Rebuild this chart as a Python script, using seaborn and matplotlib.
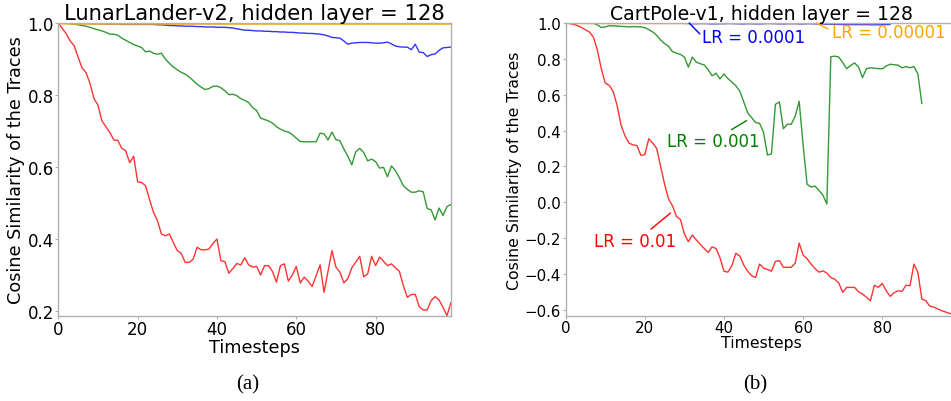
import numpy as np
import pandas as pd
import matplotlib
matplotlib.use("Agg")
import matplotlib.pyplot as plt
import seaborn as sns

# ---------------- data ----------------
steps_a = list(range(100))

lunar_lr_00001 = [1.0, 0.999, 0.999, 0.998, 0.998, 0.998, 0.998, 0.998, 0.998, 0.998,
                  0.998, 0.998, 0.998, 0.998, 0.998, 0.998, 0.998, 0.998, 0.998, 0.998,
                  0.998, 0.998, 0.998, 0.998, 0.998, 0.998, 0.998, 0.998, 0.998, 0.998,
                  0.998, 0.998, 0.998, 0.998, 0.998, 0.998, 0.998, 0.998, 0.998, 0.998,
                  0.998, 0.998, 0.998, 0.998, 0.998, 0.998, 0.998, 0.998, 0.998, 0.998,
                  0.998, 0.998, 0.998, 0.998, 0.998, 0.998, 0.998, 0.998, 0.998, 0.998,
                  0.998, 0.998, 0.998, 0.998, 0.998, 0.998, 0.998, 0.998, 0.998, 0.998,
                  0.998, 0.998, 0.998, 0.998, 0.998, 0.998, 0.998, 0.998, 0.998, 0.998,
                  0.998, 0.998, 0.998, 0.998, 0.998, 0.998, 0.998, 0.998, 0.998, 0.998,
                  0.998, 0.998, 0.998, 0.998, 0.998, 0.998, 0.998, 0.998, 0.998, 0.998]

lunar_lr_0001 = [1.0, 1.0, 1.0, 1.0, 0.999, 0.999, 0.999, 0.999, 0.998, 0.998, 0.998,
                 0.998, 0.997, 0.997, 0.997, 0.997, 0.996, 0.996, 0.996, 0.996, 0.996,
                 0.996, 0.996, 0.996, 0.996, 0.995, 0.995, 0.994, 0.993, 0.993, 0.992,
                 0.992, 0.991, 0.991, 0.991, 0.990, 0.990, 0.989, 0.989, 0.989, 0.988,
                 0.988, 0.988, 0.987, 0.986, 0.984, 0.982, 0.980, 0.980, 0.979, 0.978,
                 0.978, 0.977, 0.977, 0.976, 0.976, 0.975, 0.975, 0.974, 0.974, 0.973,
                 0.972, 0.972, 0.971, 0.971, 0.970, 0.969, 0.967, 0.964, 0.960, 0.959,
                 0.958, 0.950, 0.941, 0.944, 0.945, 0.946, 0.946, 0.946, 0.945, 0.944,
                 0.944, 0.945, 0.947, 0.942, 0.936, 0.934, 0.933, 0.933, 0.926, 0.941,
                 0.919, 0.918, 0.907, 0.912, 0.914, 0.924, 0.931, 0.932, 0.933]

lunar_lr_001 = [1.0, 1.0, 1.0, 0.998, 0.997, 0.995, 0.993, 0.991, 0.988, 0.984,
                0.981, 0.978, 0.974, 0.969, 0.969, 0.966, 0.958, 0.952, 0.946, 0.940,
                0.936, 0.932, 0.920, 0.922, 0.916, 0.913, 0.916, 0.900, 0.888, 0.878,
                0.870, 0.863, 0.858, 0.850, 0.840, 0.830, 0.822, 0.815, 0.818, 0.824,
                0.825, 0.820, 0.812, 0.801, 0.802, 0.798, 0.790, 0.785, 0.779, 0.765,
                0.757, 0.736, 0.732, 0.728, 0.722, 0.712, 0.705, 0.700, 0.697, 0.690,
                0.680, 0.671, 0.670, 0.670, 0.670, 0.670, 0.694, 0.692, 0.675, 0.697,
                0.676, 0.673, 0.650, 0.630, 0.606, 0.642, 0.652, 0.640, 0.617, 0.622,
                0.615, 0.597, 0.599, 0.573, 0.603, 0.590, 0.570, 0.548, 0.538, 0.530,
                0.530, 0.534, 0.531, 0.485, 0.481, 0.453, 0.486, 0.465, 0.490, 0.496]

lunar_lr_01 = [1.0, 0.985, 0.970, 0.950, 0.937, 0.905, 0.875, 0.862, 0.832, 0.790,
               0.772, 0.728, 0.712, 0.696, 0.675, 0.674, 0.652, 0.645, 0.612, 0.630,
               0.559, 0.557, 0.548, 0.510, 0.474, 0.451, 0.414, 0.409, 0.414, 0.390,
               0.368, 0.360, 0.335, 0.335, 0.344, 0.377, 0.370, 0.370, 0.372, 0.388,
               0.400, 0.340, 0.337, 0.305, 0.318, 0.332, 0.328, 0.348, 0.328, 0.322,
               0.324, 0.300, 0.326, 0.326, 0.310, 0.280, 0.326, 0.331, 0.283, 0.300,
               0.324, 0.278, 0.294, 0.283, 0.268, 0.298, 0.328, 0.252, 0.310, 0.368,
               0.322, 0.308, 0.278, 0.290, 0.320, 0.336, 0.352, 0.295, 0.303, 0.352,
               0.326, 0.350, 0.338, 0.326, 0.331, 0.320, 0.310, 0.270, 0.238, 0.246,
               0.246, 0.212, 0.203, 0.203, 0.229, 0.240, 0.231, 0.210, 0.187, 0.224]

steps_b = list(range(100))

cart_lr_00001 = [1.0, 1.0, 1.0, 1.0, 1.0, 1.0, 1.0, 1.0, 1.0, 1.0,
                 1.0, 1.0, 1.0, 1.0, 1.0, 1.0, 1.0, 1.0, 1.0, 1.0,
                 1.0, 1.0, 1.0, 1.0, 1.0, 1.0, 1.0, 1.0, 1.0, 1.0,
                 1.0, 1.0, 1.0, 1.0, 1.0, 1.0, 1.0, 1.0, 1.0, 1.0,
                 1.0, 1.0, 1.0, 1.0, 1.0, 1.0, 1.0, 1.0, 1.0, 1.0,
                 1.0, 1.0, 1.0, 1.0, 1.0, 1.0, 1.0, 1.0, 1.0, 1.0,
                 1.0, 1.0, 1.0, 1.0, 1.0, 1.0, 1.0, 1.0, 1.0, 1.0,
                 1.0, 1.0, 1.0, 1.0, 1.0, 1.0, 1.0, 1.0, 1.0, 1.0]

cart_lr_0001 = [1.0, 1.0, 1.0, 1.0, 1.0, 1.0, 1.0, 1.0, 1.0, 1.0,
                1.0, 1.0, 1.0, 1.0, 1.0, 1.0, 1.0, 1.0, 1.0, 1.0,
                1.0, 1.0, 1.0, 1.0, 1.0, 1.0, 1.0, 1.0, 0.999, 0.999,
                0.998, 0.997, 0.996, 0.996, 0.997, 0.997, 0.996, 0.995, 0.995, 0.996,
                0.996, 0.997, 0.997, 0.996, 0.995, 0.995, 0.996, 0.996, 0.995, 0.995,
                0.996, 0.997, 0.997, 0.996, 0.995, 0.995, 0.996, 0.996, 0.996, 0.995,
                0.995, 0.996, 0.996, 0.995, 0.994, 0.994, 0.993, 0.993, 0.993, 0.992,
                0.992, 0.991, 0.991, 0.991, 0.991, 0.991, 0.991, 0.990, 0.990, 0.990,
                0.991, 0.991, 0.992]

cart_lr_001 = [1.0, 1.0, 1.0, 1.0, 1.0, 1.0, 1.0, 0.998, 0.990, 0.975,
               0.978, 0.985, 0.984, 0.983, 0.981, 0.980, 0.978, 0.980, 0.979, 0.978,
               0.974, 0.963, 0.950, 0.931, 0.905, 0.885, 0.870, 0.840, 0.832, 0.825,
               0.810, 0.754, 0.810, 0.782, 0.773, 0.766, 0.740, 0.705, 0.720, 0.688,
               0.715, 0.690, 0.670, 0.650, 0.620, 0.560, 0.498, 0.472, 0.445, 0.440,
               0.390, 0.263, 0.270, 0.546, 0.560, 0.410, 0.435, 0.435, 0.480, 0.563,
               0.320, 0.100, 0.085, 0.090, 0.066, 0.040, -0.010, 0.812, 0.815, 0.810,
               0.780, 0.745, 0.763, 0.777, 0.755, 0.695, 0.745, 0.750, 0.748, 0.745,
               0.745, 0.760, 0.770, 0.767, 0.765, 0.750, 0.757, 0.750, 0.757, 0.716,
               0.550]

cart_lr_01 = [1.0, 0.997, 0.993, 0.985, 0.975, 0.962, 0.950, 0.922, 0.850, 0.745,
              0.665, 0.652, 0.618, 0.540, 0.430, 0.370, 0.330, 0.320, 0.316, 0.262,
              0.265, 0.354, 0.330, 0.300, 0.200, 0.100, 0.018, -0.020, -0.080, -0.096,
              -0.177, -0.220, -0.183, -0.210, -0.235, -0.258, -0.280, -0.249, -0.258, -0.310,
              -0.385, -0.390, -0.354, -0.285, -0.300, -0.350, -0.385, -0.410, -0.420, -0.345,
              -0.367, -0.375, -0.385, -0.330, -0.325, -0.363, -0.363, -0.363, -0.340, -0.228,
              -0.295, -0.315, -0.345, -0.370, -0.390, -0.383, -0.395, -0.420, -0.430, -0.450,
              -0.503, -0.475, -0.475, -0.475, -0.500, -0.512, -0.530, -0.550, -0.463, -0.475,
              -0.453, -0.494, -0.525, -0.505, -0.494, -0.497, -0.463, -0.466, -0.345, -0.392,
              -0.540, -0.549, -0.580, -0.585, -0.595, -0.605, -0.612, -0.620, -0.626, -0.633]

lr_labels = ["LR = 0.01", "LR = 0.001", "LR = 0.0001", "LR = 0.00001"]
lr_colors = ["red", "green", "blue", "orange"]

titles = ["LunarLander-v2, hidden layer = 128", "CartPole-v1, hidden layer = 128"]
captions = ["(a)", "(b)"]


def long_frame(series_list, labels):
    rows = []
    for vals, lab in zip(series_list, labels):
        for t, v in enumerate(vals):
            rows.append((t, v, lab))
    return pd.DataFrame(rows, columns=["Timesteps", "Cosine", "LR"])


df_a = long_frame([lunar_lr_01, lunar_lr_001, lunar_lr_0001, lunar_lr_00001], lr_labels)
df_b = long_frame([cart_lr_01, cart_lr_001, cart_lr_0001, cart_lr_00001], lr_labels)
palette = dict(zip(lr_labels, lr_colors))

# ---------------- style ----------------
sns.set_style("white")
plt.rcParams["font.family"] = ["DejaVu Sans"]
plt.rcParams["text.color"] = "black"
plt.rcParams["axes.labelcolor"] = "black"
plt.rcParams["xtick.color"] = "black"
plt.rcParams["ytick.color"] = "black"
spine_col = "#b0b0b0"

fig = plt.figure(figsize=(9.51, 4.02), dpi=100)
ax1 = fig.add_axes([0.0613, 0.2122, 0.4129, 0.7281])
ax2 = fig.add_axes([0.5948, 0.2122, 0.4120, 0.7281])


def style_axes(ax, tick_fs, label_fs, title, title_fs):
    for sp in ax.spines.values():
        sp.set_color(spine_col)
        sp.set_linewidth(1.0)
    ax.tick_params(axis="both", which="both", direction="out", length=2.2, width=0.8,
                   color=spine_col, pad=1.0, labelsize=tick_fs, labelcolor="black",
                   bottom=True, left=True)
    ax.set_xlabel("Timesteps", fontsize=label_fs, labelpad=0, color="black")
    ax.set_ylabel("Cosine Similarity of the Traces", fontsize=label_fs, labelpad=2,
                  color="black")
    ax.set_title(title, fontsize=title_fs, pad=3, color="black")


# ---------------- panel (a) ----------------
sns.lineplot(data=df_a, x="Timesteps", y="Cosine", hue="LR", palette=palette,
             estimator=None, ax=ax1, legend=False, linewidth=1.0, alpha=0.8)
for line, lab in zip(ax1.get_lines(), lr_labels):
    if lab == "LR = 0.00001":
        line.set_linewidth(1.8)
ax1.set_xlim(0, 99)
ax1.set_ylim(0.187, 1.0)
ax1.set_xticks([0, 20, 40, 60, 80])
ax1.set_yticks([0.2, 0.4, 0.6, 0.8, 1.0])
style_axes(ax1, 12, 12.7, titles[0], 15.2)

# ---------------- panel (b) ----------------
sns.lineplot(data=df_b, x="Timesteps", y="Cosine", hue="LR", palette=palette,
             estimator=None, ax=ax2, legend=False, linewidth=1.0, alpha=0.8)
ax2.set_xlim(0, 99)
ax2.set_ylim(-0.633, 1.0)
ax2.set_xticks([0, 20, 40, 60, 80])
ax2.set_yticks([-0.6, -0.4, -0.2, 0.0, 0.2, 0.4, 0.6, 0.8, 1.0])
style_axes(ax2, 10.8, 11.3, titles[1], 13.6)

# annotations (label text + short pointer line)
ann = [
    ("LR = 0.01", "red", (26.5, -0.060), (21.55, -0.150), (17.5, -0.219)),
    ("LR = 0.001", "green", (45.7, 0.455), (41.9, 0.405), (37.3, 0.339)),
    ("LR = 0.0001", "blue", (31.2, 1.0), (33.9, 0.939), (47.4, 0.920)),
    ("LR = 0.00001", "orange", (63.4, 1.0), (66.3, 0.967), (81.7, 0.948)),
]
for text, col, tip, start, tpos in ann:
    ax2.annotate("", xy=tip, xytext=start,
                 arrowprops=dict(arrowstyle="-", color=col, lw=1.0, shrinkA=0, shrinkB=0),
                 annotation_clip=False)
    ax2.text(tpos[0], tpos[1], text, color=col, fontsize=12, ha="center", va="center")

# captions
fig.text(248 / 951, 1 - 385 / 402, captions[0], ha="center", va="center",
         fontsize=15, family="Liberation Serif", color="black")
fig.text(755 / 951, 1 - 385 / 402, captions[1], ha="center", va="center",
         fontsize=15, family="Liberation Serif", color="black")

fig.savefig("out.png", dpi=100)
